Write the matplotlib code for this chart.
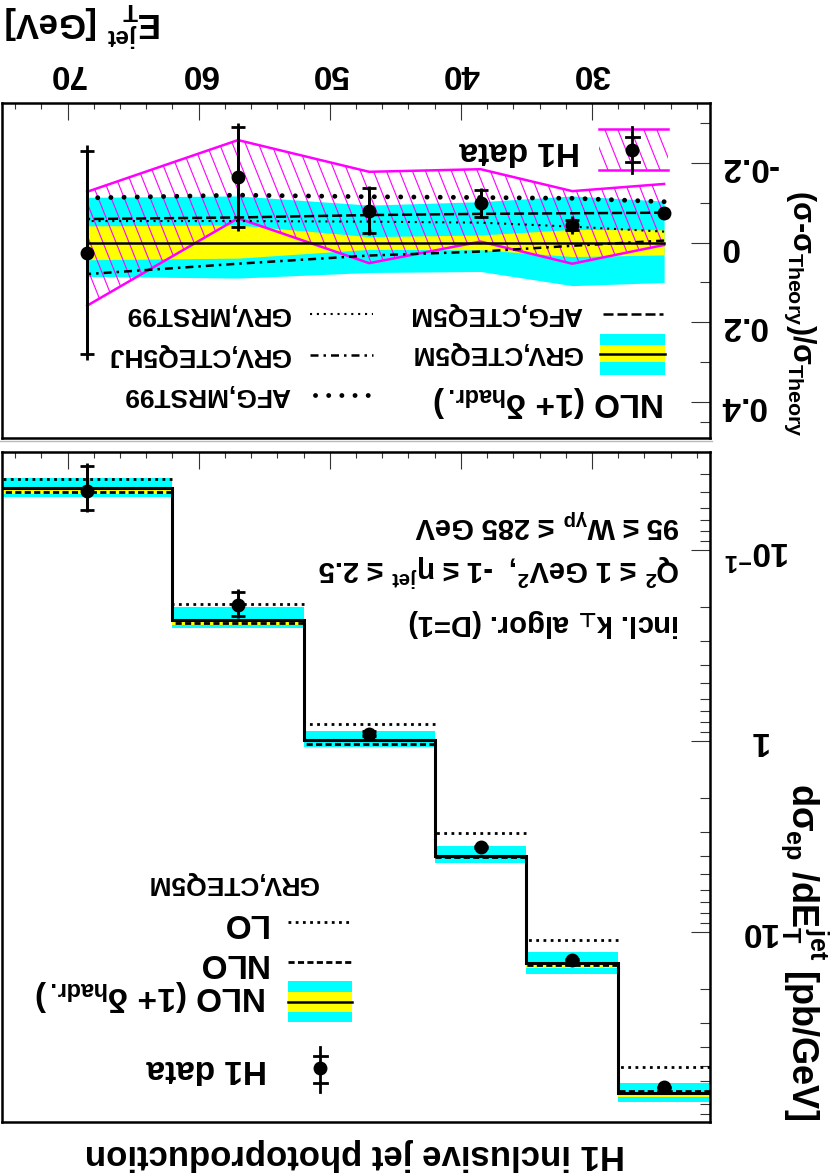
import numpy as np
import matplotlib
matplotlib.use('Agg')
import matplotlib.pyplot as plt
import matplotlib.transforms as mtransforms
from matplotlib.lines import Line2D
from matplotlib.patches import Rectangle
from matplotlib.collections import LineCollection
from matplotlib.ticker import MultipleLocator, FixedLocator

plt.rcParams['font.family'] = ['Liberation Sans', 'DejaVu Sans']
plt.rcParams['font.weight'] = 'bold'
plt.rcParams['mathtext.fontset'] = 'custom'
plt.rcParams['mathtext.rm'] = 'Liberation Sans:bold'
plt.rcParams['mathtext.it'] = 'Liberation Sans:bold'
plt.rcParams['mathtext.bf'] = 'Liberation Sans:bold'
plt.rcParams['mathtext.sf'] = 'Liberation Sans:bold'

# E_T^jet binning [GeV]
et_edges = [21, 28, 35, 42, 52, 62, 75]
et_mid = [24.5, 31.5, 38.5, 47, 57, 68.5]

# upper panel: dsigma/dE_T [pb/GeV]
h1_xs = [65.0, 14.0, 3.58, 0.919, 0.194, 0.0491]
h1_tot = [1.0, 0.31, 0.13, 0.06, 0.033, 0.0142]
h1_stat = [0.33, 0.14, 0.054, 0.028, 0.029, 0.0127]
nlo_had = [69.9, 14.6, 3.99, 0.988, 0.234, 0.0475]
scale_band_lo = [62.0, 12.7, 3.54, 0.886, 0.200, 0.0418]
scale_band_hi = [78.0, 16.5, 4.37, 1.079, 0.255, 0.0530]
had_band_lo = [69.9, 14.6, 3.99, 0.988, 0.234, 0.0481]
had_band_hi = [73.5, 15.4, 4.10, 1.01, 0.247, 0.0511]
nlo = [67.7, 14.9, 4.05, 1.041, 0.240, 0.0495]
lo = [50.7, 11.0, 3.04, 0.815, 0.192, 0.0427]

# lower panel: (sigma - sigma_theory) / sigma_theory
rat_data = [-0.0735, -0.044, -0.0985, -0.08, -0.165, 0.025]
rat_tot = [0.008, 0.022, 0.038, 0.062, 0.135, 0.27]
rat_stat = [0.0, 0.012, 0.034, 0.056, 0.125, 0.255]
h1_sys_lo = [-0.147, -0.129, -0.184, -0.1775, -0.257, -0.1275]
h1_sys_hi = [0.006, 0.053, -0.0025, 0.0516, -0.061, 0.158]
scale_lo = [-0.104, -0.117, -0.1025, -0.094, -0.117, -0.1135]
scale_hi = [0.100, 0.108, 0.0725, 0.075, 0.089, 0.085]
hadr_lo = [-0.032, -0.033, -0.019, -0.015, -0.044, -0.042]
hadr_hi = [0.031, 0.035, 0.018, 0.017, 0.039, 0.043]
grv_cteq5m = [0, 0, 0, 0, 0, 0]
afg_mrst99 = [-0.1025, -0.111, -0.113, -0.115, -0.119, -0.112]
afg_cteq5m = [-0.075, -0.0735, -0.072, -0.069, -0.063, -0.059]
grv_mrst99 = [-0.0275, -0.04, -0.05, -0.0525, -0.054, -0.054]
grv_cteq5hj = [-0.005, 0.008, 0.0225, 0.0325, 0.053, 0.079]

W, H = 834, 1176
CYAN, YELLOW, MAG = '#00ffff', '#ffff00', '#ff00ff'

fig = plt.figure(figsize=(W / 100, H / 100), dpi=100)


def fx(x):
    return x / W


def fy(y):
    return 1 - y / H


def ptext(x, y, s, size, ha='center', va='center', rot=180, **kw):
    fig.text(fx(x), fy(y), s, fontsize=size, ha=ha, va=va, rotation=rot,
             fontweight='bold', **kw)


def hline(x0, x1, y, **kw):
    fig.add_artist(Line2D([fx(x0), fx(x1)], [fy(y), fy(y)], **kw))


def hatch(ax, clip, clip_trans, y0, y1):
    top, bot = H - y0, H - y1
    segs = [[(x, top), (x + (top - bot) / 2.5, bot)] for x in np.arange(-400, W + 50, 13)]
    lc = LineCollection(segs, colors=MAG, linewidths=0.8,
                        transform=mtransforms.IdentityTransform(), zorder=2.2)
    ax.add_collection(lc, autolim=False)
    lc.set_clip_path(clip, clip_trans)


def data_glyph(x, y, ytop, ybot, t1, t2):
    fig.add_artist(Line2D([fx(x), fx(x)], [fy(ytop), fy(ybot)], color='k', lw=2))
    for t in (t1, t2):
        hline(x - 6.5, x + 6.5, t, color='k', lw=2)
    fig.add_artist(Line2D([fx(x)], [fy(y)], marker='o', ms=9, color='k'))


axr = fig.add_axes([fx(2), fy(438), 708 / W, 335 / H])
axm = fig.add_axes([fx(2), fy(1122), 708 / W, 670 / H])

# ---- ratio panel
axr.fill_between(et_mid, scale_lo, scale_hi, color=CYAN, lw=0, zorder=1)
axr.fill_between(et_mid, hadr_lo, hadr_hi, color=YELLOW, lw=0, zorder=1.5)
axr.plot(et_mid, grv_cteq5m, color='k', lw=1.8, zorder=3)
band = axr.fill_between(et_mid, h1_sys_lo, h1_sys_hi, facecolor='none', edgecolor='none')
hatch(axr, band.get_paths()[0], axr.transData, 90, 440)
axr.plot(et_mid, h1_sys_lo, color=MAG, lw=1.8, zorder=2.5)
axr.plot(et_mid, h1_sys_hi, color=MAG, lw=1.8, zorder=2.5)
axr.plot(et_mid, afg_mrst99, color='k', lw=3.5, ls=(0, (0.01, 2.7)),
         dash_capstyle='round', zorder=4)
axr.plot(et_mid, afg_cteq5m, color='k', lw=1.8, ls=(0, (4, 1.6)), zorder=4)
axr.plot(et_mid, grv_mrst99, color='k', lw=1.5, ls=(0, (1, 2.3)), zorder=4)
axr.plot(et_mid, grv_cteq5hj, color='k', lw=1.8, ls=(0, (3.2, 2, 1, 2)), zorder=4)
axr.errorbar(et_mid, rat_data, yerr=rat_tot, fmt='none', ecolor='k', elinewidth=2, zorder=5)
axr.errorbar(et_mid[1:], rat_data[1:], yerr=rat_stat[1:], fmt='none', ecolor='k',
             elinewidth=2, capsize=4.7, capthick=2, zorder=5)
axr.plot(et_mid, rat_data, 'o', color='k', ms=9, zorder=6)

axr.set_xlim(75, 21)
axr.set_ylim(0.49, -0.35)
axr.set_xticks([30, 40, 50, 60, 70])
axr.set_xticklabels(['30', '40', '50', '60', '70'])
axr.xaxis.set_minor_locator(MultipleLocator(2))
axr.set_yticks([-0.2, 0, 0.2, 0.4])
axr.set_yticklabels(['-0.2', '0', '0.2', '0.4'])
axr.yaxis.set_minor_locator(FixedLocator([-0.3, -0.1, 0.1, 0.3, 0.45]))
axr.tick_params(axis='x', which='both', direction='in', top=True, bottom=False,
                labeltop=True, labelbottom=False, labelsize=24, labelrotation=180,
                pad=10, color='#333333', width=0.8)
axr.tick_params(axis='y', which='both', direction='in', right=True, left=False,
                labelright=True, labelleft=False, labelsize=24, labelrotation=180,
                pad=7, color='#333333', width=0.8)
axr.tick_params(axis='x', which='major', length=12)
axr.tick_params(axis='x', which='minor', length=4)
axr.tick_params(axis='y', which='major', length=14)
axr.tick_params(axis='y', which='minor', length=7)

# ---- cross section panel
axm.stairs(scale_band_hi, et_edges, baseline=scale_band_lo, fill=True, color=CYAN, lw=0, zorder=1)
axm.stairs(had_band_hi, et_edges, baseline=had_band_lo, fill=True, color=YELLOW, lw=0, zorder=1.5)
axm.stairs(nlo_had, et_edges, baseline=None, color='k', lw=2.2, zorder=3)
axm.hlines(nlo, et_edges[:-1], et_edges[1:], colors='k', lw=2, linestyles=[(0, (2.2, 1.2))], zorder=3.5)
axm.hlines(lo, et_edges[:-1], et_edges[1:], colors='k', lw=2, linestyles=[(0, (1, 1.6))], zorder=3.5)
axm.errorbar(et_mid, h1_xs, yerr=h1_tot, fmt='none', ecolor='k', elinewidth=2, zorder=5)
axm.errorbar(et_mid, h1_xs, yerr=h1_stat, fmt='none', ecolor='k',
             elinewidth=2, capsize=4.7, capthick=2, zorder=5)
axm.plot(et_mid, h1_xs, 'o', color='k', ms=9, zorder=6)

axm.set_yscale('log')
axm.set_xlim(75, 21)
axm.set_ylim(98.8, 0.0307)
axm.set_xticks([30, 40, 50, 60, 70])
axm.xaxis.set_minor_locator(MultipleLocator(2))
axm.tick_params(axis='x', which='both', direction='in', top=True, bottom=False,
                labeltop=False, labelbottom=False, color='#333333', width=0.8)
axm.tick_params(axis='y', which='both', direction='in', right=True, left=False,
                labelright=False, labelleft=False, color='#333333', width=0.8)
axm.tick_params(axis='x', which='major', length=12)
axm.tick_params(axis='x', which='minor', length=4)
axm.tick_params(axis='y', which='major', length=14)
axm.tick_params(axis='y', which='minor', length=7)
ytr = axm.get_yaxis_transform()
for val, lab, dy in [(0.1, r'$10^{-1}$', -1), (1, '1', 0), (10, '10', 0)]:
    axm.annotate(lab, xy=(1, val), xycoords=ytr, xytext=(34, dy), textcoords='offset points',
                 ha='center', va='center', rotation=180, fontsize=24, fontweight='bold')

for ax in (axr, axm):
    for s in ax.spines.values():
        s.set_linewidth(1.8)

hline(0, 712, 441, color='#bbbbbb', lw=1)

# ---- texts
ptext(355, 1155, 'H1 inclusive jet photoproduction', 25)
ptext(5, 24, r'$E_T^{jet}$ [GeV]', 25, ha='left')
ptext(800, 437, r'$(\sigma$-$\sigma_{Theory})/\sigma_{Theory}$', 22, va='bottom', rot=270)
ptext(805, 1120, r'$d\sigma_{ep}$ /$dE_T^{jet}$ [pb/GeV]', 26, va='bottom', rot=270)
ptext(680, 623, 'incl. k$_{⊥}$ algor. (D=1)', 21, ha='right', math_fontfamily='dejavusans')
ptext(680, 570, r'Q$^{2}$ ≤ 1 GeV$^{2}$,  -1 ≤ $\eta^{jet}$ ≤ 2.5', 21, ha='right')
ptext(680, 523, r'95 ≤ W$_{\gamma p}$ ≤ 285 GeV', 21, ha='right')

# ratio legend
rect = Rectangle((fx(599), fy(170)), 69 / W, 41 / H, transform=fig.transFigure,
                 facecolor='none', edgecolor='none')
hatch(axr, rect, None, 120, 180)
hline(599, 668, 129, color=MAG, lw=1.8)
hline(599, 668, 170, color=MAG, lw=1.8)
data_glyph(632, 150, 127, 173, 137, 162)
ptext(580, 150, 'H1 data', 24, ha='right')
hline(603, 663, 314, color='k', lw=1.8, ls=(0, (4, 1.6)))
ptext(582, 314, 'AFG,CTEQ5M', 19, ha='right')
fig.add_artist(Rectangle((fx(600), fy(375)), 65 / W, 41 / H, transform=fig.transFigure, color=CYAN, lw=0))
fig.add_artist(Rectangle((fx(600), fy(362)), 65 / W, 17 / H, transform=fig.transFigure, color=YELLOW, lw=0))
hline(600, 665, 353.5, color='k', lw=1.8)
ptext(582, 353, 'GRV,CTEQ5M', 19, ha='right')
ptext(665, 402, r'NLO (1+ $\delta_{hadr.}$)', 24, ha='right')
hline(310, 373, 314, color='k', lw=1.5, ls=(0, (1, 2.3)))
ptext(290, 314, 'GRV,MRST99', 19, ha='right')
hline(310, 373, 355, color='k', lw=1.8, ls=(0, (3.2, 2, 1, 2)))
ptext(290, 355, 'GRV,CTEQ5HJ', 19, ha='right')
hline(315, 372, 395, color='k', lw=3.5, ls=(0, (0.01, 2.7)), dash_capstyle='round')
ptext(290, 395, 'AFG,MRST99', 19, ha='right')

# cross section legend
ptext(318, 883, 'GRV,CTEQ5M', 19, ha='right')
hline(288, 352, 922, color='k', lw=2, ls=(0, (1, 1.6)))
ptext(267, 922, 'LO', 24, ha='right')
hline(288, 352, 962, color='k', lw=2, ls=(0, (2.2, 1.2)))
ptext(267, 962, 'NLO', 24, ha='right')
fig.add_artist(Rectangle((fx(288), fy(1022)), 64 / W, 41 / H, transform=fig.transFigure, color=CYAN, lw=0))
fig.add_artist(Rectangle((fx(288), fy(1012)), 64 / W, 20 / H, transform=fig.transFigure, color=YELLOW, lw=0))
hline(288, 352, 1002, color='k', lw=1.8)
ptext(267, 996, r'NLO (1+ $\delta_{hadr.}$)', 24, ha='right')
data_glyph(320, 1068, 1047, 1092, 1056, 1083)
ptext(267, 1068, 'H1 data', 24, ha='right')

fig.savefig('out.png', dpi=100)
